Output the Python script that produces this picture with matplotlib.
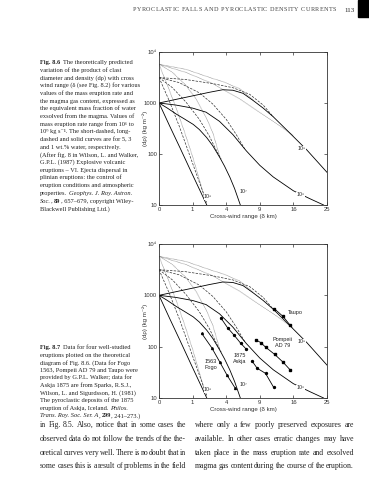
import numpy as np
import matplotlib
matplotlib.use("Agg")
import matplotlib.pyplot as plt

W, H = 369, 480

# ---- theoretical curves, x = cross-wind range (km), y = d*rho (kg m^-2)
# 1 wt.% water (solid)
w1_x = [[0, 0.1, 0.4, 0.9, 1.6, 2.02],
        [0, 0.0625, 0.27, 0.56, 1.04, 1.44, 2.02, 2.56, 3.28, 3.80, 4.45, 5.06, 5.86],
        [0, 0.25, 1, 1.96, 3.24, 4.84, 5.76, 6.76, 9, 11.56, 16, 20.25, 24],
        [0, 0.25, 1, 2.25, 3.61, 4.84, 6.25, 7.84, 9.61, 11.56, 14.82, 19.36, 25]]
w1_y = [[1000, 355, 129, 46, 16.6, 10],
        [1000, 794, 603, 490, 380, 302, 209, 145, 85, 58, 35, 21, 10],
        [1000, 912, 794, 661, 437, 240, 166, 115, 60, 35.5, 19, 13.2, 10],
        [1000, 1175, 1380, 1622, 1820, 1778, 1549, 1122, 794, 537, 275, 120, 43.7]]
# 3 wt.% water (long dashed)
w3_x = [[0, 0.09, 0.36, 0.81, 1.44, 2.02],
        [0, 0.16, 0.64, 1.44, 2.25, 2.89, 3.42],
        [0, 0.36, 1.44, 2.56, 4, 5.29, 6.5],
        [0, 0.64, 2.56, 4.84, 7.29, 9.61, 11.56]]
w3_y = [[3162, 1122, 355, 100, 28.2, 11.2],
        [3162, 1995, 1047, 479, 224, 120, 79.4],
        [3162, 2512, 1585, 955, 479, 240, 126],
        [3162, 2884, 2399, 1995, 1479, 912, 537]]
# 5 wt.% water (short dashed)
w5_x = [[0, 0.0625, 0.25, 0.5625, 1, 1.44, 1.9],
        [0, 0.16, 0.64, 1.21, 1.96, 2.56, 3.24],
        [0, 0.64, 2.56, 5.76, 8.41, 11.56, 16],
        [0, 0.64, 2.56, 3.61, 5.76, 7.84]]
w5_y = [[5754, 2239, 832, 282, 89, 31.6, 12.6],
        [5754, 3981, 2239, 1202, 525, 263, 93],
        [5754, 3981, 2399, 1202, 724, 437, 230],
        [5754, 4571, 3020, 2630, 1905, 1148]]

rate_labels = ['10⁶', '10⁷', '10⁸', '10⁹']
rate_label_x = [2.13, 6.3, 17.8, 18.1]
rate_label_y = [14.5, 18, 16, 126]

# ---- field data (Fig. 8.7)
taupo_x = [11.76, 13.62, 15.21]
taupo_y = [550, 389, 263]
pompeii_x = [8.35, 9.18, 10.05, 11.83, 13.62, 15.21]
pompeii_y = [135, 120, 98, 71, 50, 35.5]
askja_a_x = [3.39, 4.16, 5.02, 5.90, 6.76]
askja_a_y = [363, 234, 166, 117, 89]
askja_b_x = [7.67, 8.53, 10.05, 11.63]
askja_b_y = [52.5, 38, 30.2, 16.2]
fogo_x = [1.61, 2.46, 3.28, 4.12, 5.15]
fogo_y = [182, 95.5, 50, 27.5, 15.5]

x_ticks = [0, 1, 4, 9, 16, 25]
y_ticks = [10, 100, 1000, 10000]
y_ticklabels = ['10', '100', '1000', '10⁴']

N, I, B = 'normal', 'italic', 'bold'
caption_86 = [
    [("Fig. 8.6", B), ("  The theoretically predicted", N)],
    [("variation of the product of clast", N)],
    [("diameter and density (dρ) with cross", N)],
    [("wind range (δ (see Fig. 8.2) for various", N)],
    [("values of the mass eruption rate and", N)],
    [("the magma gas content, expressed as", N)],
    [("the equivalent mass fraction of water", N)],
    [("exsolved from the magma. Values of", N)],
    [("mass eruption rate range from 10⁶ to", N)],
    [("10⁹ kg s⁻¹. The short-dashed, long-", N)],
    [("dashed and solid curves are for 5, 3", N)],
    [("and 1 wt.% water, respectively.", N)],
    [("(After fig. 8 in Wilson, L. and Walker,", N)],
    [("G.P.L. (1987) Explosive volcanic", N)],
    [("eruptions – VI. Ejecta dispersal in", N)],
    [("plinian eruptions: the control of", N)],
    [("eruption conditions and atmospheric", N)],
    [("properties. ", N), ("Geophys. J. Roy. Astron.", I)],
    [("Soc.", I), (", ", N), ("89", B), (", 657–679, copyright Wiley-", N)],
    [("Blackwell Publishing Ltd.)", N)],
]
caption_87 = [
    [("Fig. 8.7", B), ("  Data for four well-studied", N)],
    [("eruptions plotted on the theoretical", N)],
    [("diagram of Fig. 8.6. (Data for Fogo", N)],
    [("1563, Pompeii AD 79 and Taupo were", N)],
    [("provided by G.P.L. Walker; data for", N)],
    [("Askja 1875 are from Sparks, R.S.J.,", N)],
    [("Wilson, L. and Sigurdsson, H. (1981)", N)],
    [("The pyroclastic deposits of the 1875", N)],
    [("eruption of Askja, Iceland. ", N), ("Philos.", I)],
    [("Trans. Roy. Soc. Ser. A", I), (", ", N), ("299", B), (", 241–273.)", N)],
]
body_left = [
    "in Fig. 8.5. Also, notice that in some cases the",
    "observed data do not follow the trends of the the-",
    "oretical curves very well. There is no doubt that in",
    "some cases this is a result of problems in the field",
]
body_right = [
    "where only a few poorly preserved exposures are",
    "available. In other cases erratic changes may have",
    "taken place in the mass eruption rate and exsolved",
    "magma gas content during the course of the eruption.",
]
header = "PYROCLASTIC FALLS AND PYROCLASTIC DENSITY CURRENTS"

plt.rcParams['font.family'] = ['Liberation Sans', 'DejaVu Sans']

fig = plt.figure(figsize=(W / 100, H / 100), dpi=100)
fig.patch.set_facecolor('white')
renderer = fig.canvas.get_renderer()
serif = ['Liberation Serif', 'DejaVu Serif']
ink = '#222222'


def px_axes(left, top, right, bottom):
    return fig.add_axes([left / W, 1 - bottom / H, (right - left) / W, (bottom - top) / H])


def draw_theory(ax):
    for xs, ys in zip(w5_x, w5_y):
        ax.plot(xs, ys, color='#666666', lw=0.5, dashes=(0.8, 0.9))
    for xs, ys in zip(w3_x, w3_y):
        ax.plot(xs, ys, color='#333333', lw=0.5, dashes=(3.5, 1.8))
    for xs, ys in zip(w1_x, w1_y):
        ax.plot(xs, ys, color='black', lw=0.6)
    for lab, lx, ly in zip(rate_labels, rate_label_x, rate_label_y):
        ax.text(lx, ly, lab, fontsize=3.8, ha='center', va='center', color=ink,
                bbox=dict(fc='white', ec='none', pad=0.3))


def style_axes(ax):
    ax.set_xscale('function', functions=(lambda v: np.sqrt(np.clip(v, 0, None)), np.square))
    ax.set_yscale('log')
    ax.set_xlim(0, 25)
    ax.set_ylim(10, 10000)
    ax.set_xticks(x_ticks)
    ax.set_xticklabels([str(t) for t in x_ticks])
    ax.set_yticks(y_ticks)
    ax.set_yticklabels(y_ticklabels)
    ax.minorticks_off()
    ax.tick_params(direction='in', length=2, width=0.5, labelsize=4.2, pad=1.5,
                   top=True, right=True, colors='#333333', labelcolor='#333333')
    for s in ax.spines.values():
        s.set_linewidth(0.6)
        s.set_color('#333333')
    ax.set_xlabel('Cross-wind range (δ km)', fontsize=4.4, labelpad=1.5, color='#333333')
    ax.set_ylabel('(dρ) (kg m⁻²)', fontsize=4.4, color='#333333')
    ax.yaxis.set_label_coords(-0.068, 0.5)


ax1 = px_axes(159, 52, 327, 205)
draw_theory(ax1)
style_axes(ax1)

ax2 = px_axes(159, 244, 327, 398)
draw_theory(ax2)
style_axes(ax2)
ax2.plot(taupo_x, taupo_y, color='black', lw=0.6, marker='s', ms=2.0)
ax2.plot(pompeii_x, pompeii_y, color='black', lw=0.6, marker='s', ms=2.0)
ax2.plot(askja_a_x, askja_a_y, color='black', lw=0.6, marker='o', ms=1.4)
ax2.plot(askja_b_x, askja_b_y, color='black', lw=0.6, marker='o', ms=1.4)
ax2.plot(fogo_x, fogo_y, color='black', lw=0.6, marker='^', ms=1.4)
for txt, tx, ty in [('Taupo', 16.5, 460), ('Pompeii', 13.5, 140), ('AD 79', 13.5, 105),
                    ('1875', 5.8, 66), ('Askja', 5.8, 52), ('1563', 2.35, 52), ('Fogo', 2.35, 39)]:
    ax2.text(tx, ty, txt, fontsize=4.0, ha='center', va='center', color=ink)


# ---- page text, positioned in pixels from the top-left corner
def word(x, y, s, size, style=N, **kw):
    kwargs = dict(fontsize=size, family=serif, va='baseline', color=ink)
    if style == I:
        kwargs['style'] = 'italic'
    elif style == B:
        kwargs['weight'] = 'bold'
    kwargs.update(kw)
    t = fig.text(x / W, 1 - y / H, s, **kwargs)
    return t, t.get_window_extent(renderer).width


def rich(x, y, segments, size):
    space = size * 1.389 * 0.25
    for s, style in segments:
        x += space * (len(s) - len(s.lstrip(' ')))
        _, w = word(x, y, s.strip(' '), size, style)
        x += w + space * (len(s) - len(s.rstrip(' ')))


def justify(lines, x0, x1, y0, step, size):
    for i, line in enumerate(lines):
        words = line.split()
        ts = [word(0, 0, w, size) for w in words]
        gap = (x1 - x0 - sum(w for _, w in ts)) / (len(words) - 1)
        x = x0
        for t, w in ts:
            t.set_position((x / W, 1 - (y0 + i * step) / H))
            x += w + gap


def spread(text, x0, x1, y, size, **kw):
    ts = [word(0, 0, c, size, **kw) for c in text]
    space = size * 1.389 * 0.3
    widths = [space if c == ' ' else w for c, (_, w) in zip(text, ts)]
    gap = (x1 - x0 - sum(widths)) / (len(text) - 1)
    x = x0
    for (t, _), w in zip(ts, widths):
        t.set_position((x / W, 1 - y / H))
        x += w + gap


spread(header, 133, 336, 11, 4.4, color='#444444')
word(344, 11.5, "113", 5.0)
fig.patches.append(plt.Rectangle((358 / W, 1 - 17 / H), 11 / W, 17 / H,
                                 transform=fig.transFigure, color='black'))

for i, segs in enumerate(caption_86):
    rich(40, 64 + i * 7.7, segs, 4.6)
for i, segs in enumerate(caption_87):
    rich(40, 349 + i * 7.6, segs, 4.6)

justify(body_left, 40, 186, 427, 13.8, 5.6)
justify(body_right, 195, 354, 427, 13.8, 5.6)

fig.savefig('out.png', dpi=100)
